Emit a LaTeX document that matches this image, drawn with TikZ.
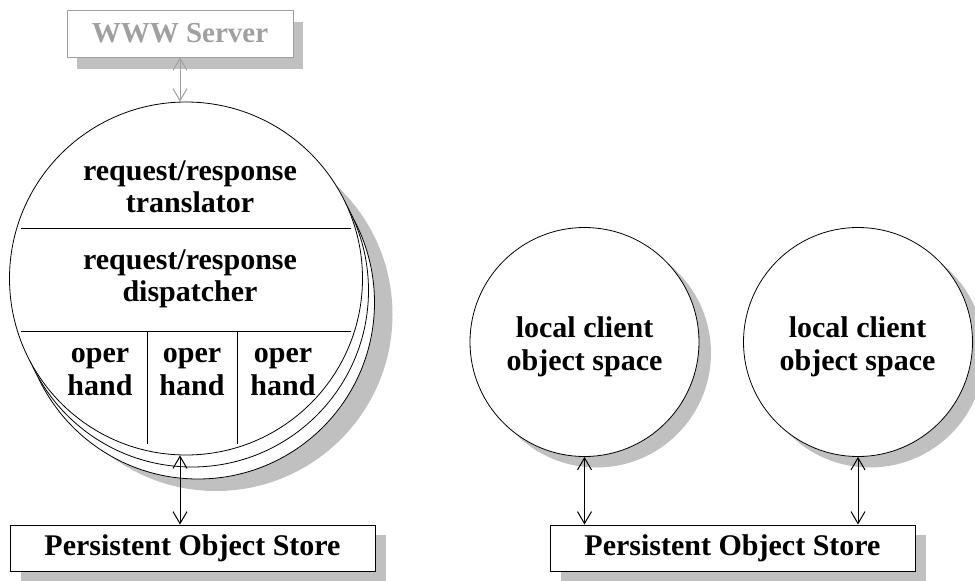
\documentclass[tikz,border=0pt]{standalone}
\usepackage{fontspec}
\setmainfont{Liberation Serif}
\usetikzlibrary{arrows.meta,shadows,calc}
\definecolor{shadowgray}{HTML}{C0C0C0}
\definecolor{wwwgray}{HTML}{A0A0A0}
\tikzset{
  lbl/.style={font=\bfseries\fontsize{30}{32.5}\selectfont, align=center, inner sep=0pt},
  disc/.style={circle, draw=black, line width=0.8pt, fill=white, inner sep=0pt},
  store/.style={draw=black, line width=0.9pt, fill=white, minimum width=365pt, minimum height=46pt, inner sep=0pt,
    font=\bfseries\fontsize{30}{34}\selectfont,
    drop shadow={shadow xshift=11pt, shadow yshift=-10pt, fill=shadowgray, opacity=1}},
  arr/.style={{Straight Barb[length=12pt,width=14pt]}-{Straight Barb[length=12pt,width=14pt]}, line width=1pt},
  divline/.style={line width=0.8pt},
}
\begin{document}
\begin{tikzpicture}[x=1pt,y=-1pt]
\useasboundingbox (0,0) rectangle (975,581);
% WWW server
\node[draw=wwwgray, line width=0.9pt, fill=white, minimum width=226pt, minimum height=47pt, inner sep=0pt,
  font=\bfseries\fontsize{29}{34}\selectfont, text=wwwgray,
  drop shadow={shadow xshift=10pt, shadow yshift=-12pt, fill=shadowgray, opacity=1}]
  (www) at (180,33.5) {WWW Server};
% stacked main circles
\node[disc, minimum size=353pt, drop shadow={shadow xshift=18pt, shadow yshift=-12pt, fill=shadowgray, opacity=1}] (c3) at (198,302.5) {};
\node[disc, minimum size=353pt] (c2) at (192,290.5) {};
\node[disc, minimum size=353pt] (main) at (186,278.5) {};
% dividers
\coordinate (h1l) at (21,228); \coordinate (h1r) at (351,228);
\coordinate (h2l) at (21,331); \coordinate (h2r) at (351,331);
\coordinate (v1t) at (147,331); \coordinate (v1b) at (147,444);
\coordinate (v2t) at (237,331); \coordinate (v2b) at (237,444);
\draw[divline] (h1l) -- (h1r);
\draw[divline] (h2l) -- (h2r);
\draw[divline] (v1t) -- (v1b);
\draw[divline] (v2t) -- (v2b);
% texts in main circle
\node[lbl] (trans) at (190,187) {request/response\\translator};
\node[lbl] (disp) at (190,279) {request/response\\dispatcher};
\node[lbl] (op1) at (100,372) {oper\\hand};
\node[lbl] (op2) at (192,372) {oper\\hand};
\node[lbl] (op3) at (283,372) {oper\\hand};
% local client circles
\node[disc, minimum size=229pt, drop shadow={shadow xshift=12pt, shadow yshift=-11pt, fill=shadowgray, opacity=1}] (loc1) at (584.5,342) {};
\node[disc, minimum size=229pt, drop shadow={shadow xshift=12pt, shadow yshift=-11pt, fill=shadowgray, opacity=1}] (loc2) at (858,342) {};
\node[lbl] (loc1t) at (584.5,347) {local client\\object space};
\node[lbl] (loc2t) at (857.5,347) {local client\\object space};
% stores
\node[store] (pos1) at (192.5,548) {Persistent Object Store};
\node[store] (pos2) at (732.5,548) {Persistent Object Store};
% connectors
\draw[arr, draw=wwwgray] (www.south) -- (www.south |- main.north);
\draw[arr] ($(main.south)+(-6,0)$) -- ($(pos1.north)+(-12.5,0)$);
\draw[arr] (loc1.south) -- (loc1.south |- pos2.north);
\draw[arr] (loc2.south) -- (loc2.south |- pos2.north);
\end{tikzpicture}
\end{document}
